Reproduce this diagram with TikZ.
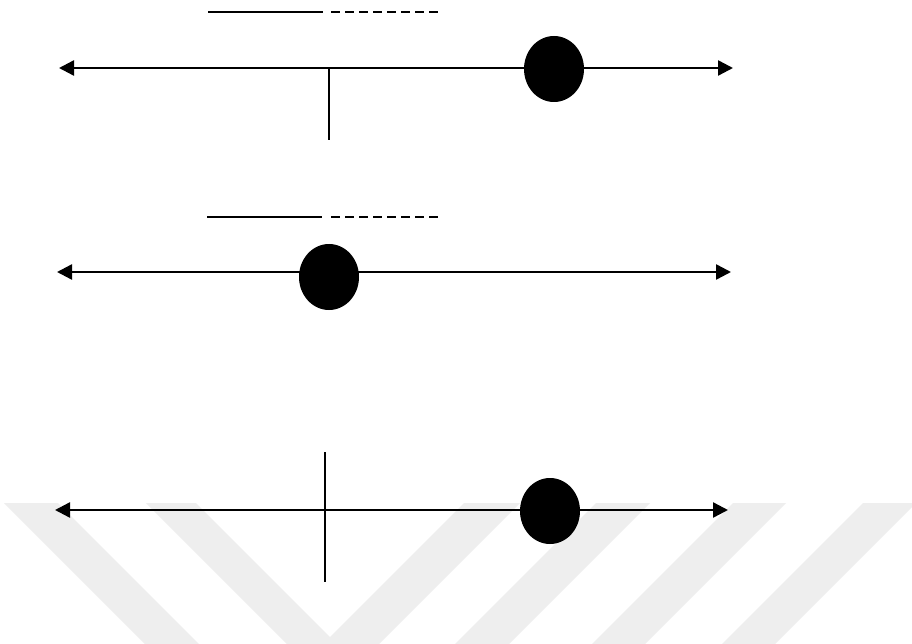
\documentclass[tikz,border=0pt]{standalone}
\usetikzlibrary{arrows.meta,shapes.geometric}
\definecolor{wmgray}{RGB}{238,238,238}
\tikzset{
  axisline/.style={line width=2.4pt,{Triangle[length=15pt,width=15pt]}-{Triangle[length=15pt,width=15pt]}},
  tickline/.style={line width=1.7pt},
  solidbar/.style={line width=2pt},
  dashbar/.style={line width=2pt,dash pattern=on 8.5pt off 5.5pt},
  blackdot/.style={ellipse,fill=black,draw=none,minimum width=60pt,minimum height=66pt,inner sep=0pt},
  band/.style={fill=wmgray,draw=none}
}
\begin{document}
\begin{tikzpicture}[x=1pt,y=-1pt]
\useasboundingbox (0,0) rectangle (912,644);
\fill[white] (0,0) rectangle (912,644);
% watermark bands
\begin{scope}
\clip (0,0) rectangle (912,644);
\fill[band] (4,503) -- (58,503) -- (199,644) -- (145,644) -- cycle;
\fill[band] (146,503) -- (196,503) -- (337,644) -- (287,644) -- cycle;
\fill[band] (464,503) -- (520,503) -- (379,644) -- (323,644) -- cycle;
\fill[band] (596,503) -- (650,503) -- (509,644) -- (455,644) -- cycle;
\fill[band] (733,503) -- (786,503) -- (645,644) -- (592,644) -- cycle;
\fill[band] (863,503) -- (916,503) -- (775,644) -- (722,644) -- cycle;
\end{scope}
% row 1
\coordinate (s1a) at (208,12); \coordinate (s1b) at (323,12);
\coordinate (d1a) at (331,12); \coordinate (d1b) at (439,12);
\draw[solidbar] (s1a) -- (s1b);
\draw[dashbar] (d1a) -- (d1b);
\coordinate (l1) at (59,68); \coordinate (r1) at (733,68);
\draw[axisline] (l1) -- (r1);
\coordinate (t1a) at (329,68); \coordinate (t1b) at (329,140);
\draw[tickline] (t1a) -- (t1b);
\node[blackdot] (dot1) at (554,69) {};
% row 2
\coordinate (s2a) at (207,217); \coordinate (s2b) at (322,217);
\coordinate (d2a) at (331,217); \coordinate (d2b) at (438,217);
\draw[solidbar] (s2a) -- (s2b);
\draw[dashbar] (d2a) -- (d2b);
\coordinate (l2) at (57,272); \coordinate (r2) at (731,272);
\draw[axisline] (l2) -- (r2);
\node[blackdot] (dot2) at (329,277) {};
% row 3
\coordinate (l3) at (55,510); \coordinate (r3) at (728,510);
\draw[axisline] (l3) -- (r3);
\coordinate (t3a) at (325,452); \coordinate (t3b) at (325,582);
\draw[tickline] (t3a) -- (t3b);
\node[blackdot] (dot3) at (550,511) {};
\end{tikzpicture}
\end{document}
